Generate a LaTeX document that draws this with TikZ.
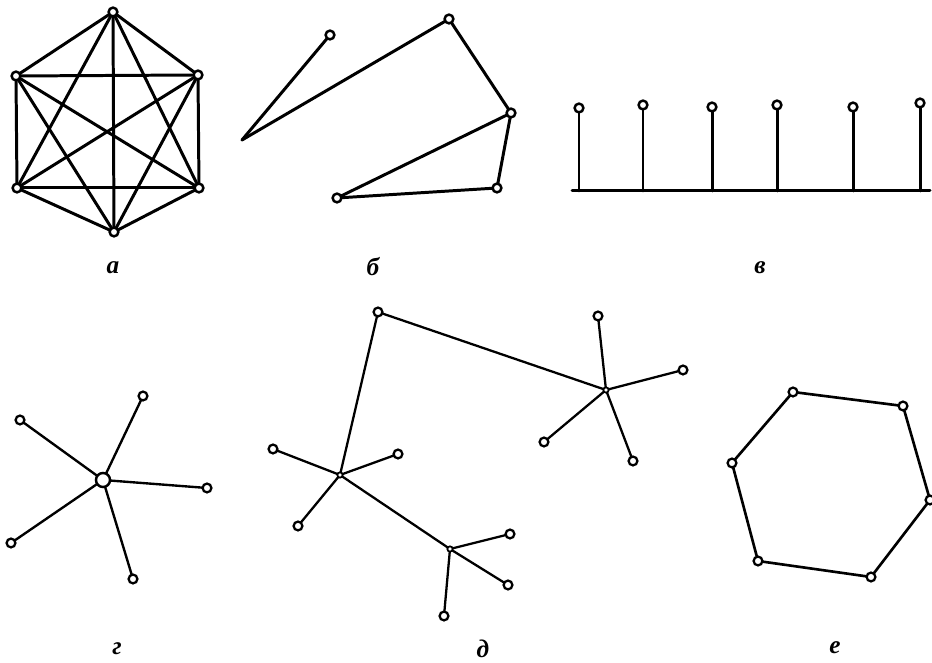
\documentclass[tikz,border=0pt]{standalone}
\usepackage{fontspec}
\setmainfont{Liberation Serif}
\usetikzlibrary{calc}
\usepackage{tkz-euclide}

\begin{document}
\begin{tikzpicture}
\tkzSetUpLine[line width=1.7pt,color=black]
\tkzSetUpPoint[fill=white,color=black]
\tikzset{panel label/.style={anchor=center,font=\Large\bfseries\itshape}}
\useasboundingbox (0,0) rectangle (18.64,13.26);

% a: complete graph
\tkzDefPoints{2.26/13.02/a1,3.96/11.76/a2,3.98/9.50/a3,2.28/8.62/a4,0.34/9.50/a5,0.32/11.74/a6}
% b: open chain
\tkzDefPoints{6.60/12.56/b1,4.84/10.46/b2,8.98/12.88/b3,10.22/11.00/b4,9.94/9.50/b5,6.74/9.30/b6}
% v: comb
\tkzDefPoints{11.58/11.10/v1,12.86/11.16/v2,14.24/11.12/v3,15.54/11.16/v4,17.06/11.12/v5,18.40/11.20/v6}
\tkzDefPoints{11.58/9.44/w1,12.86/9.44/w2,14.24/9.44/w3,15.54/9.44/w4,17.06/9.44/w5,18.40/9.44/w6}
\tkzDefPoints{11.44/9.44/w0,18.60/9.44/w7}
% g: star
\tkzDefPoints{2.06/3.66/g0,0.40/4.86/g1,2.86/5.34/g2,4.14/3.50/g3,2.66/1.68/g4,0.22/2.40/g5}
% d: tree
\tkzDefPoints{7.56/7.02/d0,6.80/3.76/dA,12.12/5.46/dB,9.00/2.28/dC}
\tkzDefPoints{5.46/4.28/dA1,7.96/4.18/dA2,5.96/2.74/dA3}
\tkzDefPoints{11.96/6.94/dB1,13.66/5.86/dB2,10.88/4.42/dB3,12.66/4.04/dB4}
\tkzDefPoints{10.20/2.58/dC1,10.16/1.56/dC2,8.88/0.94/dC3}
% e: cycle
\tkzDefPoints{15.86/5.42/e1,18.06/5.14/e2,18.60/3.26/e3,17.42/1.72/e4,15.16/2.04/e5,14.64/4.00/e6}
% labels
\tkzDefPoints{2.26/7.90/la,7.46/7.92/lb,15.20/7.90/lv,2.34/0.28/lg,9.66/0.28/ld,16.70/0.30/le}

\tkzDrawPolygon(a1,a2,a3,a4,a5,a6)
\tkzDrawSegments(a1,a3 a1,a4 a1,a5 a2,a4 a2,a5 a2,a6 a3,a5 a3,a6 a4,a6)

\tkzDrawSegments(b1,b2 b2,b3 b3,b4 b4,b6 b6,b5 b5,b4)

\tkzDrawSegments(w0,w7 v1,w1 v2,w2 v3,w3 v4,w4 v5,w5 v6,w6)

\tkzDrawSegments[line width=1.35pt](g0,g1 g0,g2 g0,g3 g0,g4 g0,g5)

\tkzDrawSegments[line width=1.3pt](d0,dA d0,dB dA,dC dA,dA1 dA,dA2 dA,dA3 dB,dB1 dB,dB2 dB,dB3 dB,dB4 dC,dC1 dC,dC2 dC,dC3)

\tkzDrawPolygon[line width=1.5pt](e1,e2,e3,e4,e5,e6)

\tkzDrawPoints[size=5,line width=1.4pt](a1,a2,a3,a4,a5,a6,b1,b3,b4,b5,b6,v1,v2,v3,v4,v5,v6)
\tkzDrawPoints[size=5,line width=1.3pt](g1,g2,g3,g4,g5,dA1,dA2,dA3,dB1,dB2,dB3,dB4,dC1,dC2,dC3,d0)
\tkzDrawPoints[size=5,line width=1.3pt](e1,e2,e3,e4,e5,e6)
\tkzDrawPoints[size=8,line width=1.4pt](g0)
\tkzDrawPoints[size=3,line width=1pt](dA,dB,dC)

\tkzLabelPoint[panel label](la){а}
\tkzLabelPoint[panel label](lb){б}
\tkzLabelPoint[panel label](lv){в}
\tkzLabelPoint[panel label](lg){г}
\tkzLabelPoint[panel label](ld){д}
\tkzLabelPoint[panel label](le){е}

\end{tikzpicture}
\end{document}
